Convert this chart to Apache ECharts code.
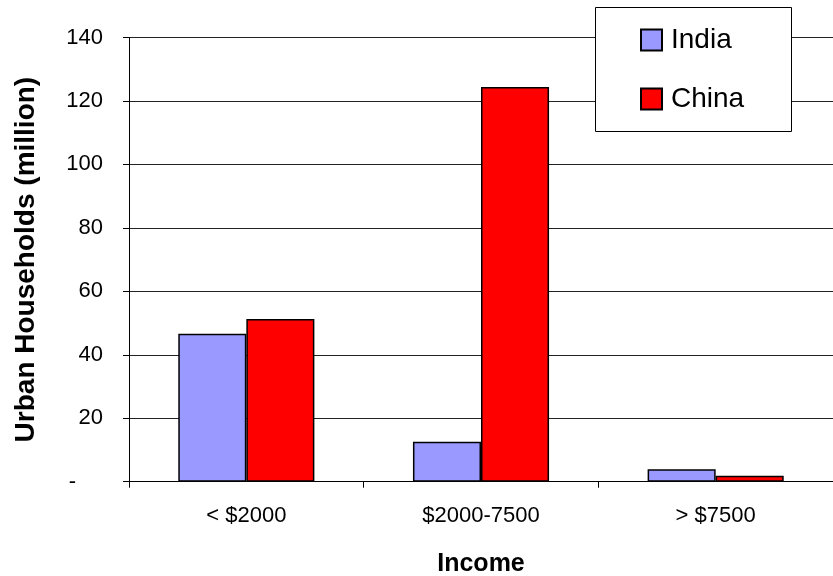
<!DOCTYPE html>
<html>
<head>
    <meta charset="utf-8">
    <title>Urban Households by Income</title>
    <script src="https://cdn.jsdelivr.net/npm/echarts@6/dist/echarts.min.js"></script>
    <style>
        body { margin: 0; padding: 0; overflow: hidden; background: #fff; }
        #chart { width: 833px; height: 576px; }
    </style>
</head>
<body>
    <div id="chart"></div>
    <script>
        // data
        const categories = ['< $2000', '$2000-7500', '> $7500'];
        const india = [46.6, 12.6, 3.9];
        const china = [51.3, 124.4, 1.9];
        const yTicks = [0, 20, 40, 60, 80, 100, 120, 140];

        const font = '"Liberation Sans", Arial, sans-serif';
        const chart = echarts.init(document.getElementById('chart'));

        const option = {
            animation: false,
            backgroundColor: '#fff',
            textStyle: { fontFamily: font, color: '#000' },
            grid: { left: 129, right: 0, top: 37.5, bottom: 94.3, containLabel: false, outerBoundsMode: 'none' },
            graphic: [{
                type: 'rect',
                left: 595, top: 7,
                shape: { width: 196, height: 124 },
                style: { fill: '#fff', stroke: '#000', lineWidth: 1 },
                z: 5
            }],
            legend: {
                orient: 'vertical',
                left: 640,
                top: 26,
                padding: 0,
                itemGap: 31,
                itemWidth: 21,
                itemHeight: 21,
                icon: 'rect',
                z: 10,
                textStyle: { fontFamily: font, fontSize: 28, lineHeight: 28, color: '#000', padding: [0, 0, 0, 4] },
                data: ['India', 'China']
            },
            xAxis: {
                type: 'category',
                data: categories,
                name: 'Income',
                nameLocation: 'middle',
                nameGap: 70,
                nameTextStyle: { fontFamily: font, fontSize: 25, fontWeight: 'bold', color: '#000' },
                axisLine: { lineStyle: { color: '#000', width: 1 } },
                axisTick: { show: true, length: 6, lineStyle: { color: '#000' } },
                axisLabel: { fontFamily: font, fontSize: 22, color: '#000', margin: 23 }
            },
            yAxis: {
                type: 'value',
                min: yTicks[0],
                max: yTicks[yTicks.length - 1],
                interval: 20,
                name: 'Urban Households (million)',
                nameLocation: 'middle',
                nameRotate: 90,
                nameGap: 89,
                nameTextStyle: { fontFamily: font, fontSize: 28, fontWeight: 'bold', color: '#000' },
                axisLine: { show: true, lineStyle: { color: '#000', width: 1 } },
                axisTick: { show: true, length: 6, lineStyle: { color: '#000' } },
                splitLine: { lineStyle: { color: '#222', width: 1 } },
                axisLabel: {
                    fontFamily: font, fontSize: 22, color: '#000', margin: 26,
                    formatter: v => v === 0 ? '{d|-}' : String(v),
                    rich: { d: { fontFamily: font, fontSize: 22, color: '#000', padding: [0, 27, 0, 0] } }
                }
            },
            series: [
                {
                    name: 'India',
                    type: 'bar',
                    data: india,
                    barGap: '0%',
                    barCategoryGap: '42%',
                    itemStyle: { color: '#9999ff', borderColor: '#000', borderWidth: 1.5 }
                },
                {
                    name: 'China',
                    type: 'bar',
                    data: china,
                    barGap: '0%',
                    barCategoryGap: '42%',
                    itemStyle: { color: '#ff0000', borderColor: '#000', borderWidth: 1.5 }
                }
            ]
        };

        chart.setOption(option);
    </script>
</body>
</html>
